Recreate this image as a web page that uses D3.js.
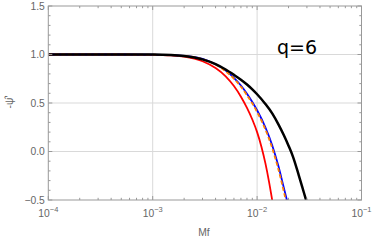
<!DOCTYPE html>
<html>
<head>
<meta charset="utf-8">
<script src="https://cdn.jsdelivr.net/npm/d3@7"></script>
<style>
  body { margin: 0; background: #fff; }
  svg { display: block; }
  .tick-label { font-family: "Liberation Sans", Arial, sans-serif; font-size: 10.3px; fill: #666; }
</style>
</head>
<body>
<script>
"use strict";

// frequencies (Mf) and -psi' values
let redMf   = [1e-4, 5e-4, 1e-3, 1.5e-3, 2e-3, 3e-3, 4e-3, 5e-3, 6e-3, 7e-3, 8e-3, 9e-3, 0.01, 0.011, 0.012, 0.013, 0.014];
let redVal  = [1.0, 1.0, 0.997, 0.99, 0.978, 0.93, 0.86, 0.775, 0.675, 0.565, 0.45, 0.33, 0.2, 0.05, -0.12, -0.31, -0.51];

let blueMf  = [1e-4, 5e-4, 1e-3, 2e-3, 3e-3, 4e-3, 5e-3, 6e-3, 7e-3, 8e-3, 9e-3, 0.01, 0.012, 0.014, 0.016, 0.018, 0.0195];
let blueVal = [1.0, 1.0, 0.998, 0.986, 0.955, 0.9, 0.835, 0.76, 0.68, 0.595, 0.51, 0.425, 0.25, 0.06, -0.15, -0.37, -0.52];

let orangeMf  = [1e-4, 5e-4, 1e-3, 2e-3, 3e-3, 4e-3, 5e-3, 6e-3, 7e-3, 8e-3, 9e-3, 0.01, 0.012, 0.014, 0.016, 0.018, 0.019];
let orangeVal = [1.0, 1.0, 0.998, 0.985, 0.952, 0.895, 0.827, 0.75, 0.668, 0.58, 0.495, 0.407, 0.228, 0.03, -0.185, -0.41, -0.52];

let blackMf  = [1e-4, 5e-4, 1e-3, 1.5e-3, 2e-3, 3e-3, 4e-3, 5e-3, 6e-3, 7e-3, 8e-3, 9e-3, 0.01, 0.012, 0.014, 0.016, 0.018, 0.02, 0.022, 0.025, 0.028, 0.03];
let blackVal = [1.0, 1.0, 0.999, 0.995, 0.985, 0.95, 0.9, 0.845, 0.79, 0.74, 0.69, 0.64, 0.59, 0.49, 0.39, 0.28, 0.17, 0.06, -0.05, -0.24, -0.42, -0.53];

let xTickExp = [-4, -3, -2, -1];
let yTicks = [-0.5, 0.0, 0.5, 1.0, 1.5];
let yTickLabels = ["\u22120.5", "0.0", "0.5", "1.0", "1.5"];

let width = 374, height = 241;
let plotLeft = 48.3, plotRight = 361.5, plotTop = 6, plotBottom = 200;

let svg = d3.select("body").append("svg")
	.attr("width", width)
	.attr("height", height);

let x = d3.scaleLog().domain([1e-4, 1e-1]).range([plotLeft, plotRight]);
let y = d3.scaleLinear().domain([-0.5, 1.5]).range([plotBottom, plotTop]);

// grid
let grid = svg.append("g").attr("stroke", "#d9d9d9").attr("stroke-width", 1);
[1e-3, 1e-2].forEach(function (v) {
	grid.append("line").attr("x1", x(v)).attr("x2", x(v)).attr("y1", plotTop).attr("y2", plotBottom);
});
[0.0, 0.5, 1.0].forEach(function (v) {
	grid.append("line").attr("x1", plotLeft).attr("x2", plotRight).attr("y1", y(v)).attr("y2", y(v));
});

// curves
svg.append("clipPath").attr("id", "plotClip")
	.append("rect").attr("x", plotLeft).attr("y", plotTop).attr("width", plotRight - plotLeft).attr("height", plotBottom - plotTop);

let line = d3.line()
	.x(function (d) { return x(d[0]); })
	.y(function (d) { return y(d[1]); })
	.curve(d3.curveMonotoneX);

function pairs(xs, ys) {
	return xs.map(function (v, i) { return [v, ys[i]]; });
}

let curves = svg.append("g").attr("clip-path", "url(#plotClip)").attr("fill", "none");

curves.append("path").attr("d", line(pairs(redMf, redVal)))
	.attr("stroke", "#ff0000").attr("stroke-width", 1.8);
curves.append("path").attr("d", line(pairs(blueMf, blueVal)))
	.attr("stroke", "#0000ff").attr("stroke-width", 1.8);
curves.append("path").attr("d", line(pairs(orangeMf, orangeVal)))
	.attr("stroke", "#ff8000").attr("stroke-width", 1.8)
	.attr("stroke-dasharray", "4,2.5");
curves.append("path").attr("d", line(pairs(blackMf, blackVal)))
	.attr("stroke", "#000").attr("stroke-width", 2.5);

// frame
let frame = svg.append("g").attr("stroke", "#999").attr("stroke-width", 1).attr("fill", "none");
frame.append("rect").attr("x", plotLeft).attr("y", plotTop).attr("width", plotRight - plotLeft).attr("height", plotBottom - plotTop);

// x ticks (log, inward, top and bottom)
for (let e = -4; e < -1; e++) {
	for (let m = 1; m < 10; m++) {
		let v = m * Math.pow(10, e);
		let len = m === 1 ? 4 : 2.2;
		frame.append("line").attr("x1", x(v)).attr("x2", x(v)).attr("y1", plotBottom).attr("y2", plotBottom - len);
		frame.append("line").attr("x1", x(v)).attr("x2", x(v)).attr("y1", plotTop).attr("y2", plotTop + len);
	}
}

// y ticks (0.1 minor)
for (let k = 0; k <= 20; k++) {
	let v = -0.5 + k * 0.1;
	let len = k % 5 === 0 ? 4 : 2.2;
	frame.append("line").attr("x1", plotLeft).attr("x2", plotLeft + len).attr("y1", y(v)).attr("y2", y(v));
	frame.append("line").attr("x1", plotRight).attr("x2", plotRight - len).attr("y1", y(v)).attr("y2", y(v));
}

// tick labels
yTicks.forEach(function (v, i) {
	svg.append("text").attr("class", "tick-label")
		.attr("x", plotLeft - 3.5).attr("y", y(v)).attr("dy", "0.35em")
		.attr("text-anchor", "end")
		.text(yTickLabels[i]);
});

xTickExp.forEach(function (e) {
	let t = svg.append("text").attr("class", "tick-label")
		.attr("x", x(Math.pow(10, e))).attr("y", 216.5)
		.attr("text-anchor", "middle");
	t.append("tspan").text("10");
	t.append("tspan").attr("dy", -5).attr("font-size", "7.5px").text("\u2212" + Math.abs(e));
});

// axis labels
svg.append("text").attr("class", "tick-label")
	.attr("x", 204).attr("y", 236)
	.attr("text-anchor", "middle")
	.text("Mf");

svg.append("text").attr("class", "tick-label")
	.attr("transform", "translate(13,102) rotate(-90)")
	.attr("text-anchor", "middle")
	.text("-\u03C8\u0302'");

svg.append("text")
	.attr("x", 277).attr("y", 54)
	.attr("font-family", "DejaVu Sans, sans-serif")
	.attr("font-size", "19px")
	.attr("fill", "#000")
	.text("q=6");
</script>
</body>
</html>
